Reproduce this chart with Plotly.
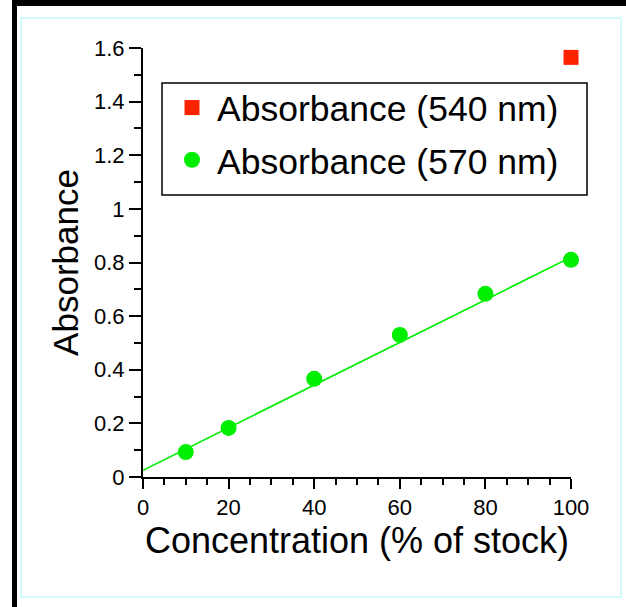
import plotly.graph_objects as go

# Data
conc_540 = [100]
abs_540 = [1.565]

conc_570 = [10, 20, 40, 60, 80, 100]
abs_570 = [0.093, 0.183, 0.366, 0.53, 0.683, 0.81]

fit_x = [0, 100]
fit_y = [0.025, 0.82]

y_tickvals = [0, 0.2, 0.4, 0.6, 0.8, 1.0, 1.2, 1.4, 1.6]
y_ticktext = ["0", "0.2", "0.4", "0.6", "0.8", "1", "1.2", "1.4", "1.6"]
x_tickvals = [0, 20, 40, 60, 80, 100]
x_ticktext = ["0", "20", "40", "60", "80", "100"]

RED = "#ff2200"
GREEN = "#00ee00"
FONT = "Liberation Sans, Arial, sans-serif"

fig = go.Figure()
fig.add_trace(go.Scatter(
    x=fit_x, y=fit_y, mode="lines", line=dict(color=GREEN, width=1.6),
    showlegend=False, hoverinfo="skip", cliponaxis=False))
fig.add_trace(go.Scatter(
    x=conc_540, y=abs_540, mode="markers", name="Absorbance (540 nm)",
    legendgroup="a", marker=dict(symbol="square", size=15, color=RED), cliponaxis=False))
fig.add_trace(go.Scatter(
    x=conc_570, y=abs_570, mode="markers", name="Absorbance (570 nm)",
    legendgroup="b", marker=dict(symbol="circle", size=16, color=GREEN), cliponaxis=False))

L, R, T, B = 143, 55, 48, 130
W, H = 626, 607
pw, ph = W - L - R, H - T - B

def px(x):
    return (x - L) / pw

def py(y):
    return (H - B - y) / ph

shapes = [
    # black frame lines (left and top)
    dict(type="rect", xref="paper", yref="paper", x0=px(12), x1=px(17),
         y0=py(0), y1=py(607), fillcolor="black", line=dict(width=0), layer="below"),
    dict(type="rect", xref="paper", yref="paper", x0=px(12), x1=px(626),
         y0=py(0), y1=py(6), fillcolor="black", line=dict(width=0), layer="below"),
    # light cyan inner frame
    dict(type="rect", xref="paper", yref="paper", x0=px(21), x1=px(621),
         y0=py(18), y1=py(597), fillcolor="rgba(0,0,0,0)",
         line=dict(color="#d4fbfb", width=2), layer="below"),
    # legend box
    dict(type="rect", xref="paper", yref="paper", x0=px(162), x1=px(587),
         y0=py(83), y1=py(195), fillcolor="white",
         line=dict(color="black", width=1.5), layer="above"),
]

fig.update_layout(
    width=W, height=H,
    margin=dict(l=L, r=R, t=T, b=B),
    paper_bgcolor="white", plot_bgcolor="white",
    font=dict(family=FONT, color="black"),
    shapes=shapes,
    legend=dict(
        x=px(167), y=py(78), xanchor="left", yanchor="top",
        borderwidth=0, bgcolor="rgba(0,0,0,0)",
        font=dict(size=35.5, family=FONT, color="black"),
        itemwidth=40, tracegroupgap=3,
    ),
    xaxis=dict(
        range=[0, 100], tickvals=x_tickvals, ticktext=x_ticktext,
        showgrid=False, zeroline=False, showline=True, linecolor="black", linewidth=2,
        ticks="outside", ticklen=10, tickwidth=2, tickcolor="black",
        tickfont=dict(size=22, family=FONT),
        minor=dict(dtick=5, ticks="outside", ticklen=6, tickwidth=2, tickcolor="black"),
        title=dict(text="Concentration (% of stock)", font=dict(size=36, family=FONT), standoff=0),
    ),
    yaxis=dict(
        range=[0, 1.6], tickvals=y_tickvals, ticktext=y_ticktext,
        showgrid=False, zeroline=False, showline=True, linecolor="black", linewidth=2,
        ticks="outside", ticklen=12, tickwidth=2, tickcolor="black",
        tickfont=dict(size=22, family=FONT),
        minor=dict(dtick=0.1, ticks="outside", ticklen=7, tickwidth=2, tickcolor="black"),
        title=dict(text="Absorbance", font=dict(size=35, family=FONT), standoff=5),
    ),
)

fig.write_html("out.html", config={"displayModeBar": False},
               post_script="document.body.style.margin='0';")
